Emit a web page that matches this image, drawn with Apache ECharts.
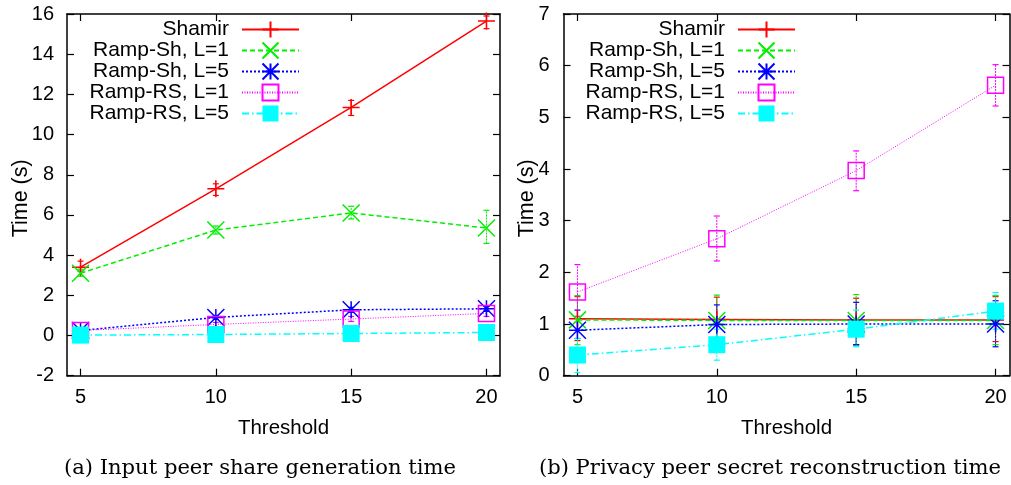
<!DOCTYPE html>
<html>
<head>
<meta charset="utf-8">
<script src="https://cdn.jsdelivr.net/npm/echarts@6/dist/echarts.min.js"></script>
<style>html,body{margin:0;padding:0;background:#fff}#c{width:1011px;height:485px}</style>
</head>
<body>
<div id="c"></div>
<script>
const thresholds = [5, 10, 15, 20];
const seriesNames = ['Shamir', 'Ramp-Sh, L=1', 'Ramp-Sh, L=5', 'Ramp-RS, L=1', 'Ramp-RS, L=5'];
const xTicks = [5, 10, 15, 20];

// (a) Input peer share generation time
const genShamir = [3.4, 7.3, 11.35, 15.65];
const genShamirLo = [3.2, 6.97, 10.95, 15.27];
const genShamirHi = [3.7, 7.55, 11.7, 15.9];
const genSh1 = [3.1, 5.25, 6.1, 5.35];
const genSh1Lo = [2.95, 5.05, 5.8, 4.58];
const genSh1Hi = [3.3, 5.45, 6.43, 6.23];
const genSh5 = [0.25, 0.9, 1.28, 1.33];
const genSh5Lo = [0.15, 0.8, 1.15, 1.2];
const genSh5Hi = [0.35, 1.0, 1.4, 1.45];
const genRS1 = [0.25, 0.55, 0.82, 1.1];
const genRS1Lo = [0.15, 0.45, 0.7, 0.95];
const genRS1Hi = [0.35, 0.65, 0.95, 1.25];
const genRS5 = [0.02, 0.05, 0.1, 0.15];
const genRS5Lo = [0.0, 0.02, 0.05, 0.1];
const genRS5Hi = [0.05, 0.08, 0.15, 0.2];

// (b) Privacy peer secret reconstruction time
const recShamir = [1.1, 1.09, 1.08, 1.08];
const recShamirLo = [0.68, 0.62, 0.6, 0.66];
const recShamirHi = [1.53, 1.52, 1.5, 1.53];
const recSh1 = [1.08, 1.07, 1.07, 1.07];
const recSh1Lo = [0.6, 0.6, 0.58, 0.6];
const recSh1Hi = [1.55, 1.56, 1.57, 1.55];
const recSh5 = [0.88, 0.99, 1.0, 1.0];
const recSh5Lo = [0.72, 0.62, 0.6, 0.56];
const recSh5Hi = [1.27, 1.37, 1.42, 1.45];
const recRS1 = [1.62, 2.65, 3.97, 5.62];
const recRS1Lo = [1.15, 2.22, 3.58, 5.22];
const recRS1Hi = [2.15, 3.09, 4.35, 6.02];
const recRS5 = [0.4, 0.6, 0.9, 1.25];
const recRS5Lo = [0.06, 0.3, 0.56, 0.9];
const recRS5Hi = [0.72, 0.9, 1.27, 1.61];

const colors = ['#ff0000', '#00ee00', '#0000ff', '#ff00ff', '#00ffff'];
const dashes = ['solid', [5, 3], [2, 2], [1, 1.5], [7, 3, 1.5, 3]];
const symbols = [
  'path://M0,5L10,5M5,0L5,10',
  'path://M0,0L10,10M10,0L0,10',
  'path://M0,0L10,10M10,0L0,10M5,0L5,10M0,5L10,5',
  'rect',
  'rect'
];
const symbolSizes = [17, 17, 17, 16, 17];

const font = 'Liberation Sans, Arial, sans-serif';

function lineSeries(idx, gridIdx, values) {
  const c = colors[idx];
  const item = idx === 3
    ? { color: 'rgba(255,255,255,0)', borderColor: c, borderWidth: 1.5 }
    : idx === 4 ? { color: c, borderColor: c, borderWidth: 0 }
    : { color: c, borderColor: c, borderWidth: 1.5 };
  return {
    type: 'line', name: seriesNames[idx],
    xAxisIndex: gridIdx * 2, yAxisIndex: gridIdx * 2,
    data: thresholds.map((x, i) => [x, values[i]]),
    symbol: symbols[idx], symbolSize: symbolSizes[idx], showAllSymbol: true,
    lineStyle: { color: c, width: idx === 3 ? 1 : 1.5, type: dashes[idx] },
    itemStyle: item,
    emphasis: { disabled: true },
    animation: false, z: 3 + idx
  };
}

function errSeries(idx, gridIdx, lo, hi) {
  const c = colors[idx];
  return {
    type: 'custom',
    xAxisIndex: gridIdx * 2, yAxisIndex: gridIdx * 2,
    data: thresholds.map((x, i) => [x, lo[i], hi[i]]),
    encode: { x: 0, y: [1, 2] },
    silent: true, animation: false, z: 2,
    renderItem: function (params, api) {
      const x = api.value(0);
      const p1 = api.coord([x, api.value(1)]);
      const p2 = api.coord([x, api.value(2)]);
      const w = 3;
      const st = { stroke: c, lineWidth: 1, lineDash: dashes[idx] === 'solid' ? null : [2, 1] };
      return {
        type: 'group',
        children: [
          { type: 'line', shape: { x1: p1[0], y1: p1[1], x2: p2[0], y2: p2[1] }, style: st },
          { type: 'line', shape: { x1: p1[0] - w, y1: p1[1], x2: p1[0] + w, y2: p1[1] }, style: { stroke: c, lineWidth: 1.2 } },
          { type: 'line', shape: { x1: p2[0] - w, y1: p2[1], x2: p2[0] + w, y2: p2[1] }, style: { stroke: c, lineWidth: 1.2 } }
        ]
      };
    }
  };
}

function xAxes(gridIdx) {
  const base = {
    type: 'value', gridIndex: gridIdx, min: 4.5, max: 20.5,
    splitLine: { show: false },
    axisLine: { show: true, onZero: false, lineStyle: { color: '#000', width: 1.5 } },
    axisTick: { show: true, inside: true, length: 7, customValues: xTicks, lineStyle: { color: '#000', width: 1.2 } }
  };
  return [
    Object.assign({}, base, {
      position: 'bottom',
      axisLabel: { show: true, customValues: xTicks, margin: 12, fontSize: 20, fontFamily: font, color: '#000' },
      name: 'Threshold', nameLocation: 'middle', nameGap: 42, nameMoveOverlap: false,
      nameTextStyle: { fontSize: 20.5, fontFamily: font, color: '#000' }
    }),
    Object.assign({}, base, { position: 'top', axisLabel: { show: false } })
  ];
}

function yAxes(gridIdx, min, max, interval, nameGap, labelMargin) {
  const base = {
    type: 'value', gridIndex: gridIdx, min: min, max: max, interval: interval,
    splitLine: { show: false },
    axisLine: { show: true, onZero: false, lineStyle: { color: '#000', width: 1.5 } },
    axisTick: { show: true, inside: true, length: 7, lineStyle: { color: '#000', width: 1.2 } }
  };
  return [
    Object.assign({}, base, {
      position: 'left',
      axisLabel: { show: true, margin: labelMargin, fontSize: 20, fontFamily: font, color: '#000' },
      name: 'Time (s)', nameLocation: 'middle', nameGap: nameGap, nameRotate: 90, nameMoveOverlap: false,
      nameTextStyle: { fontSize: 21.5, fontFamily: font, color: '#000', padding: [0, 7, 0, 0] }
    }),
    Object.assign({}, base, { position: 'right', axisLabel: { show: false } })
  ];
}

function legendFor(rightPx) {
  return {
    orient: 'vertical', right: rightPx, top: 19, align: 'right',
    itemWidth: 57, itemHeight: 20, itemGap: 0, padding: 0,
    selectedMode: false, data: seriesNames,
    textStyle: { fontSize: 21, fontFamily: font, color: '#000', lineHeight: 21, padding: [0, 8, 0, 0] }
  };
}

const chart = echarts.init(document.getElementById('c'), null, { renderer: 'canvas' });
const genVals = [genShamir, genSh1, genSh5, genRS1, genRS5];
const genLo = [genShamirLo, genSh1Lo, genSh5Lo, genRS1Lo, genRS5Lo];
const genHi = [genShamirHi, genSh1Hi, genSh5Hi, genRS1Hi, genRS5Hi];
const recVals = [recShamir, recSh1, recSh5, recRS1, recRS5];
const recLo = [recShamirLo, recSh1Lo, recSh5Lo, recRS1Lo, recRS5Lo];
const recHi = [recShamirHi, recSh1Hi, recSh5Hi, recRS1Hi, recRS5Hi];

const series = [];
for (let i = 0; i < 5; i++) series.push(lineSeries(i, 0, genVals[i]));
for (let i = 0; i < 5; i++) series.push(lineSeries(i, 1, recVals[i]));
for (let i = 0; i < 5; i++) series.push(errSeries(i, 0, genLo[i], genHi[i]));
for (let i = 0; i < 5; i++) series.push(errSeries(i, 1, recLo[i], recHi[i]));

chart.setOption({
  backgroundColor: '#fff',
  animation: false,
  title: [
    { text: '(a) Input peer share generation time', left: 255, top: 453, textAlign: 'center',
      textStyle: { fontSize: 21.1, fontWeight: 'normal', fontFamily: 'DejaVu Serif, serif', color: '#000' } },
    { text: '(b) Privacy peer secret reconstruction time', left: 765, top: 453, textAlign: 'center',
      textStyle: { fontSize: 21.1, fontWeight: 'normal', fontFamily: 'DejaVu Serif, serif', color: '#000' } }
  ],
  legend: [legendFor(711), legendFor(215)],
  grid: [
    { left: 67, right: 511, top: 14, bottom: 109.3, containLabel: false },
    { left: 563.5, right: 1.5, top: 14, bottom: 109.3, containLabel: false }
  ],
  xAxis: [].concat(xAxes(0), xAxes(1)),
  yAxis: [].concat(yAxes(0, -2, 16, 2, 35, 13), yAxes(1, 0, 7, 1, 25.5, 14)),
  series: series
});
</script>
</body>
</html>
